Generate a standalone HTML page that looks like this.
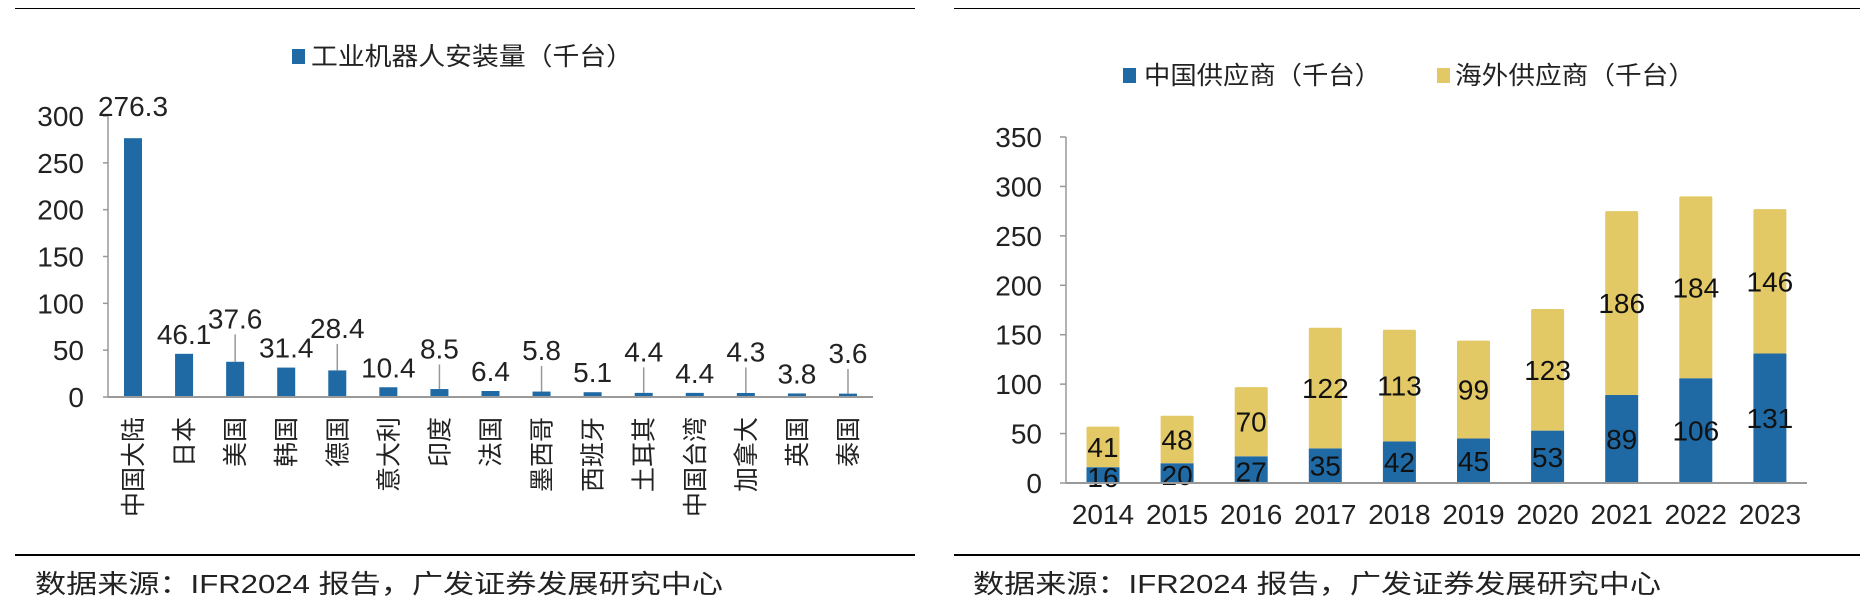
<!DOCTYPE html>
<html><head><meta charset="utf-8">
<style>
html,body{margin:0;padding:0;background:#fff;}
svg{display:block;font-family:"Liberation Sans","Noto Sans CJK SC",sans-serif;}
</style></head>
<body>
<svg id="s" width="1860" height="606" viewBox="0 0 1860 606" xmlns="http://www.w3.org/2000/svg">
  <line x1="15" y1="8.5" x2="915" y2="8.5" stroke="#000" stroke-width="1"/>
  <line x1="954" y1="8.5" x2="1860" y2="8.5" stroke="#000" stroke-width="1"/>
  <line x1="15" y1="555" x2="915" y2="555" stroke="#000" stroke-width="2"/>
  <line x1="954" y1="555" x2="1860" y2="555" stroke="#000" stroke-width="2"/>
  <text x="35" y="593" font-size="26" fill="#222" textLength="688" lengthAdjust="spacingAndGlyphs">数据来源：IFR2024 报告，广发证券发展研究中心</text>
  <text x="973" y="593" font-size="26" fill="#222" textLength="688" lengthAdjust="spacingAndGlyphs">数据来源：IFR2024 报告，广发证券发展研究中心</text>

  <g id="left">
    <rect x="292" y="49" width="13" height="15" fill="#1f6aa5"/>
    <text x="311" y="65" font-size="25" fill="#222" textLength="322" lengthAdjust="spacingAndGlyphs">工业机器人安装量（千台）</text>
  </g>
  <g id="right">
    <rect x="1123" y="68" width="13" height="15" fill="#1f6aa5"/>
    <text x="1144" y="84" font-size="25" fill="#222" textLength="237" lengthAdjust="spacingAndGlyphs">中国供应商（千台）</text>
    <rect x="1437" y="68" width="13" height="15" fill="#e3c866"/>
    <text x="1455" y="84" font-size="25" fill="#222" textLength="240" lengthAdjust="spacingAndGlyphs">海外供应商（千台）</text>
  </g>
</svg>
<script>
const countries = ["中国大陆","日本","美国","韩国","德国","意大利","印度","法国","墨西哥","西班牙","土耳其","中国台湾","加拿大","英国","泰国"];
const installs = [276.3,46.1,37.6,31.4,28.4,10.4,8.5,6.4,5.8,5.1,4.4,4.4,4.3,3.8,3.6];
const leftTicks = [0,50,100,150,200,250,300];
const labelLift = [0,0,25,0,24,0,22,0,23,0,23,0,23,0,22];

const years = ["2014","2015","2016","2017","2018","2019","2020","2021","2022","2023"];
const chinaVals = [16,20,27,35,42,45,53,89,106,131];
const overseasVals = [41,48,70,122,113,99,123,186,184,146];
const rightTicks = [0,50,100,150,200,250,300,350];

const NS = "http://www.w3.org/2000/svg";
function mk(tag, attrs, parent, txt){
  const e = document.createElementNS(NS, tag);
  for (const k in attrs) e.setAttribute(k, attrs[k]);
  if (txt !== undefined) e.textContent = txt;
  parent.appendChild(e);
  return e;
}
const fmt = v => (Math.round(v*10)/10).toString();

// ---------- Left chart ----------
const L = document.getElementById('left');
const ly = v => 397 - v * (281/300);
const lx = i => 133 + i * 51.07;
let e;
e = mk('line',{x1:108,y1:ly(300),x2:108,y2:397,stroke:'#999','stroke-width':1.5},L);


leftTicks.forEach(t=>{
  e = mk('line',{x1:103,y1:ly(t),x2:108,y2:ly(t),stroke:'#999','stroke-width':1.5},L);
  
  
  e = mk('text',{x:84,y:ly(t)+10,'font-size':28,'text-anchor':'end',fill:'#222'},L,String(t));
  
  
});
installs.forEach((v,i)=>{
  const cx = lx(i);
  e = mk('rect',{x:cx-9,y:ly(v),width:18,height:397-ly(v),fill:'#1f6aa5'},L);
  
  
  const lift = labelLift[i];
  let by;
  if (lift > 0) {
    const top = ly(v) - lift*(281/300);
    e = mk('line',{x1:cx,y1:top-4,x2:cx,y2:ly(v),stroke:'#999','stroke-width':1.5},L);
    
    
    by = top - 10;
  } else {
    by = ly(v) - 10;
  }
  if (i===0) by = 116;
  e = mk('text',{x:cx,y:by,'font-size':28,'text-anchor':'middle',fill:'#222'},L,fmt(v));
  
  
  e = mk('text',{transform:`translate(${cx+9},417) rotate(-90)`,'font-size':25,'text-anchor':'end',fill:'#222'},L,countries[i]);
  
  
});
e = mk('line',{x1:108,y1:397,x2:873,y2:397,stroke:'#999','stroke-width':2},L);



// ---------- Right chart ----------
const R = document.getElementById('right');
const ry = v => 483 - v * (346/350);
const rx = i => 1103 + i * 74.1;
e = mk('line',{x1:1066,y1:ry(350),x2:1066,y2:483,stroke:'#999','stroke-width':1.5},R);


rightTicks.forEach(t=>{
  e = mk('line',{x1:1060,y1:ry(t),x2:1066,y2:ry(t),stroke:'#999','stroke-width':1.5},R);
  
  
  e = mk('text',{x:1042,y:ry(t)+10,'font-size':28,'text-anchor':'end',fill:'#222'},R,String(t));
  
  
});
years.forEach((yr,i)=>{
  const cx = rx(i), c = chinaVals[i], o = overseasVals[i];
  e = mk('rect',{x:cx-16.5,y:ry(c),width:33,height:483-ry(c),fill:'#1f6aa5'},R);
  
  
  e = mk('rect',{x:cx-16.5,y:ry(c+o),width:33,height:ry(c)-ry(c+o),fill:'#e3c866',rx:1.5},R);
  
  
  e = mk('text',{x:cx,y:ry(c/2)+10+(c<30?2:0),'font-size':28,'text-anchor':'middle',fill:'#111'},R,String(c));
  
  
  e = mk('text',{x:cx,y:ry(c+o/2)+10,'font-size':28,'text-anchor':'middle',fill:'#111'},R,String(o));
  
  
  e = mk('text',{x:cx,y:524,'font-size':28,'text-anchor':'middle',fill:'#222'},R,yr);
  
  
});
e = mk('line',{x1:1066,y1:483,x2:1807,y2:483,stroke:'#999','stroke-width':2},R);


</script>
</body></html>
